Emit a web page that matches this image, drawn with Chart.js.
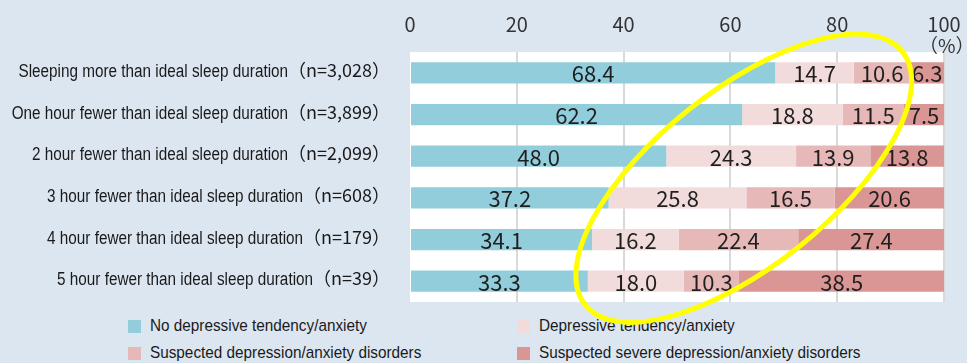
<!DOCTYPE html>
<html>
<head>
<meta charset="utf-8">
<script src="https://cdn.jsdelivr.net/npm/chart.js@4/dist/chart.umd.min.js"></script>
<style>
  html, body { margin: 0; padding: 0; background: #dce6f1; }
  #wrap { position: relative; width: 967px; height: 363px; overflow: hidden; }
  #legend { position: absolute; left: 0; top: 0; width: 967px; height: 363px; z-index: 0;
    font-family: 'Liberation Sans', Arial, sans-serif; font-size: 17px; color: #1a1a1a; }
  #legend .item { position: absolute; white-space: nowrap; line-height: 20px; }
  #legend .box { position: absolute; left: 0; top: 4px; width: 13px; height: 13px; }
  #legend .txt { position: absolute; left: 22px; top: 0; transform: scaleX(0.9); transform-origin: left center; }
  canvas { position: relative; z-index: 1; }
</style>
</head>
<body>
<div id="wrap">
  <div id="legend"></div>
  <canvas id="sleep-chart" width="967" height="363"></canvas>
</div>
<script>
const categories = [
    'Sleeping more than ideal sleep duration（n=3,028）',
    'One hour fewer than ideal sleep duration（n=3,899）',
    '2 hour fewer than ideal sleep duration（n=2,099）',
    '3 hour fewer than ideal sleep duration（n=608）',
    '4 hour fewer than ideal sleep duration（n=179）',
    '5 hour fewer than ideal sleep duration（n=39）'
];
const seriesNames = [
    'No depressive tendency/anxiety',
    'Depressive tendency/anxiety',
    'Suspected depression/anxiety disorders',
    'Suspected severe depression/anxiety disorders'
];
const noTendency = [68.4, 62.2, 48.0, 37.2, 34.1, 33.3];
const tendency = [14.7, 18.8, 24.3, 25.8, 16.2, 18.0];
const suspected = [10.6, 11.5, 13.9, 16.5, 22.4, 10.3];
const severe = [6.3, 7.5, 13.8, 20.6, 27.4, 38.5];
const xTicks = [0, 20, 40, 60, 80, 100];

const colors = ['#92cddc', '#f2dcdb', '#e6b9b8', '#d99694'];
const cjk = "'Noto Sans CJK JP', 'Noto Sans', sans-serif";
const latin = "'Liberation Sans', Arial, sans-serif";

// white plot background
const plotBg = {
    id: 'plotBg',
    beforeDraw(chart) {
        const { ctx, chartArea: a } = chart;
        ctx.save();
        ctx.fillStyle = '#ffffff';
        ctx.fillRect(a.left, a.top, a.right - a.left, a.bottom - a.top);
        ctx.restore();
    }
};

// category labels: condensed latin text + (n=...) in cjk font
const categoryLabels = {
    id: 'categoryLabels',
    afterDraw(chart) {
        const { ctx, chartArea } = chart;
        const y = chart.scales.y;
        const right = chartArea.left - 20;
        ctx.save();
        ctx.fillStyle = '#1a1a1a';
        ctx.textBaseline = 'alphabetic';
        chart.data.labels.forEach((label, i) => {
            const k = label.indexOf('（');
            const main = label.slice(0, k);
            const count = label.slice(k);
            const py = y.getPixelForValue(i) + 4;
            ctx.font = '18px ' + cjk;
            ctx.textAlign = 'right';
            ctx.fillText(count, right, py);
            const w = ctx.measureText(count).width;
            ctx.save();
            ctx.translate(right - w, py);
            ctx.scale(0.85, 1);
            ctx.font = '18px ' + latin;
            ctx.fillText(main, 0, 0);
            ctx.restore();
        });
        ctx.restore();
    }
};

// values in the middle of each segment
const barValues = {
    id: 'barValues',
    afterDatasetsDraw(chart) {
        const ctx = chart.ctx;
        ctx.save();
        ctx.font = '22px ' + cjk;
        ctx.fillStyle = '#1f1f1f';
        ctx.textAlign = 'center';
        ctx.textBaseline = 'middle';
        chart.data.datasets.forEach((ds, i) => {
            chart.getDatasetMeta(i).data.forEach((bar, j) => {
                const cx = (bar.x + bar.base) / 2;
                ctx.fillText(ds.data[j].toFixed(1), cx, bar.y + 1);
            });
        });
        // unit label
        ctx.font = '19px ' + cjk;
        ctx.fillStyle = '#333333';
        ctx.textAlign = 'left';
        ctx.fillText('（%）', chart.chartArea.right - 25, chart.chartArea.top - 6);
        ctx.restore();
    }
};

// yellow highlight ellipse
const highlight = {
    id: 'highlight',
    afterDraw(chart) {
        const { ctx } = chart;
        const x = chart.scales.x, y = chart.scales.y;
        const cx = x.getPixelForValue(62.5);
        const cy = y.getPixelForValue(2.53);
        ctx.save();
        ctx.strokeStyle = '#ffff00';
        ctx.lineWidth = 5;
        ctx.beginPath();
        ctx.ellipse(cx, cy, 203, 88, -38.6 * Math.PI / 180, 0, Math.PI * 2);
        ctx.stroke();
        ctx.restore();
    }
};

const ctx = document.getElementById('sleep-chart').getContext('2d');
const sleepChart = new Chart(ctx, {
    type: 'bar',
    data: {
        labels: categories,
        datasets: [noTendency, tendency, suspected, severe].map((values, i) => ({
            label: seriesNames[i],
            data: values,
            backgroundColor: colors[i],
            borderWidth: 0,
            barPercentage: 0.51,
            categoryPercentage: 1
        }))
    },
    options: {
        indexAxis: 'y',
        responsive: false,
        animation: false,
        layout: { padding: { left: 0, right: 23, top: 0, bottom: 61 } },
        plugins: {
            legend: { display: false },
            tooltip: { enabled: false }
        },
        scales: {
            x: {
                position: 'top',
                stacked: true,
                min: 0,
                max: 100,
                afterFit(scale) {
                    scale.height = 52;
                    scale.paddingLeft = 0;
                    scale.paddingRight = 0;
                },
                afterBuildTicks(scale) { scale.ticks = xTicks.map(v => ({ value: v })); },
                border: { display: false },
                grid: {
                    drawTicks: false,
                    color: c => c.tick && c.tick.value === 0 ? 'rgba(0,0,0,0)' : '#d9d9d9',
                    lineWidth: 2
                },
                ticks: {
                    padding: 16,
                    color: '#333333',
                    font: { family: cjk, size: 20 }
                }
            },
            y: {
                stacked: true,
                afterFit(scale) { scale.width = 410; },
                border: { display: false },
                grid: { display: false, drawTicks: false },
                ticks: { display: false }
            }
        }
    },
    plugins: [plotBg, barValues, categoryLabels, highlight]
});

// legend in two columns behind the canvas
const legendPos = [[128, 316], [517, 316], [128, 343], [517, 343]];
const legendEl = document.getElementById('legend');
seriesNames.forEach((name, i) => {
    const item = document.createElement('div');
    item.className = 'item';
    item.style.left = legendPos[i][0] + 'px';
    item.style.top = legendPos[i][1] + 'px';
    item.innerHTML = '<span class="box" style="background:' + colors[i] + '"></span><span class="txt">' + name + '</span>';
    legendEl.appendChild(item);
});
</script>
</body>
</html>
